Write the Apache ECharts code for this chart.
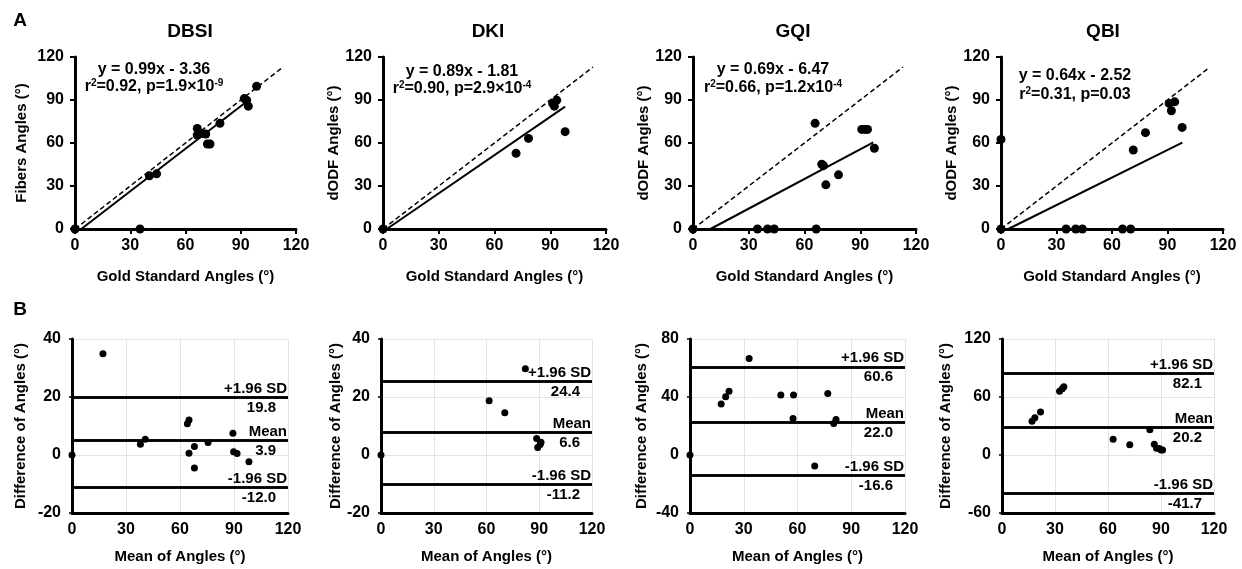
<!DOCTYPE html>
<html>
<head>
<meta charset="utf-8">
<script src="https://cdn.jsdelivr.net/npm/echarts@6.0.0/dist/echarts.min.js"></script>
<style>
html, body { margin: 0; padding: 0; background: #fff; }
#chart { width: 1242px; height: 569px; }
</style>
</head>
<body>
<div id="chart"></div>
<script>
var chart = echarts.init(document.getElementById('chart'));

// methods & axis names
var methods = ['DBSI', 'DKI', 'GQI', 'QBI'];
var topYNames = ['Fibers Angles (°)', 'dODF Angles (°)', 'dODF Angles (°)', 'dODF Angles (°)'];

// A: gold standard angle vs measured angle
var goldDBSI = [0, 35.3, 40.4, 44.3, 66.4, 66.4, 68.8, 71.0, 71.9, 73.3, 78.7, 91.9, 93.2, 94.1, 98.6];
var measDBSI = [0, 0, 37.1, 38.5, 70.2, 65.6, 66.7, 66.3, 59.3, 59.3, 73.7, 91.0, 89.9, 85.7, 99.6];
var goldDKI = [0, 71.6, 78.3, 91.3, 92.2, 93.5, 98.0];
var measDKI = [0, 52.8, 63.2, 87.6, 85.7, 89.9, 67.9];
var goldGQI = [0, 34.7, 40.1, 43.7, 66.3, 65.7, 69.3, 70.2, 71.5, 78.3, 90.8, 92.6, 93.9, 97.6];
var measGQI = [0, 0, 0, 0, 0, 73.7, 45.2, 44.2, 30.8, 37.8, 69.5, 69.5, 69.5, 56.3];
var goldQBI = [0, 0, 35.2, 40.4, 44.0, 65.7, 70.1, 71.5, 78.1, 90.9, 92.1, 93.9, 97.9];
var measQBI = [0, 62.5, 0, 0, 0, 0, 0, 55.1, 67.2, 87.6, 82.5, 88.7, 70.9];

// regression fits as printed
var slopes = [0.99, 0.89, 0.69, 0.64];
var intercepts = [-3.36, -1.81, -6.47, -2.52];
var fitEndX = [94, 98, 97, 98];
var identityEnd = [113, 113, 113, 112];
var eqText = ['y = 0.99x - 3.36', 'y = 0.89x - 1.81', 'y = 0.69x - 6.47', 'y = 0.64x - 2.52'];
var r2Text = ['0.92', '0.90', '0.66', '0.31'];
var pText = ['1.9×10', '2.9×10', '1.2x10', '0.03'];
var pExp = ['-9', '-4', '-4', ''];

// B: Bland-Altman mean vs difference
var meanDBSI = [0, 17.2, 38.0, 40.7, 64.1, 65.0, 65.0, 68.0, 68.0, 75.6, 89.4, 89.8, 91.7, 98.3];
var diffDBSI = [0, 34.9, 3.7, 5.4, 10.8, 12.1, 0.6, 2.9, -4.5, 4.3, 7.5, 1.1, 0.5, -2.3];
var meanDKI = [0, 82.1, 61.5, 70.4, 88.5, 91.0, 89.1, 90.5];
var diffDKI = [0, 29.7, 18.7, 14.6, 5.7, 4.4, 2.6, 3.6];
var meanGQI = [0, 17.4, 19.9, 21.8, 33.0, 50.7, 57.8, 57.5, 76.9, 80.2, 81.5, 69.6];
var diffGQI = [0, 35.1, 40.1, 44.0, 66.5, 41.3, 41.3, 25.2, 42.4, 21.8, 24.5, -7.6];
var meanQBI = [17.0, 18.6, 21.8, 32.6, 34.1, 35.0, 62.9, 72.3, 83.7, 86.2, 87.5, 89.0, 90.0, 90.9];
var diffQBI = [34.8, 38.6, 44.5, 65.9, 68.6, 70.7, 16.2, 10.7, 26.2, 11.0, 6.9, 6.6, 5.2, 5.2];

var upperLimit = [19.8, 25.3, 60.8, 84.8];
var meanLimit = [5.1, 7.7, 22.7, 28.3];
var lowerLimit = [-11.2, -10.0, -14.0, -40.0];
var upperText = ['19.8', '24.4', '60.6', '82.1'];
var meanText = ['3.9', '6.6', '22.0', '20.2'];
var lowerText = ['-12.0', '-11.2', '-16.6', '-41.7'];

var bYMin = [-20, -20, -40, -60];
var bYMax = [40, 40, 80, 120];
var bYStep = [20, 20, 40, 60];

var topGold = [goldDBSI, goldDKI, goldGQI, goldQBI];
var topMeas = [measDBSI, measDKI, measGQI, measQBI];
var botMean = [meanDBSI, meanDKI, meanGQI, meanQBI];
var botDiff = [diffDBSI, diffDKI, diffGQI, diffQBI];

var FONT = '"Liberation Sans", Arial, sans-serif';
var topLeft = [75, 383, 693, 1001], topWidth = [221, 223, 223, 222];
var botLeft = [72, 381, 690, 1002], botWidth = [216, 211, 215, 212];
var topNameGap = [46, 39, 39, 39], botNameGap = [44, 37, 41, 49];
var titleX = [190, 488, 793, 1103];
var eqX = [154, 462, 773, 1075], eqY = [70, 72, 70, 76], eq2Y = [87, 89, 88, 95];

function zip(a, b) {
	var r = [];
	for (var i = 0; i < a.length; i++) r.push([a[i], b[i]]);
	return r;
}

var grids = [], xAxes = [], yAxes = [], series = [], graphics = [];
var bold = { color: '#000', fontWeight: 'bold', fontFamily: FONT };

function nameLbl(txt) {
	return Object.assign({ show: true, position: 'insideEndTop', formatter: txt, fontSize: 15, distance: 1 }, bold);
}
function valLbl(txt) {
	return Object.assign({ show: true, position: 'insideEndBottom', formatter: txt, fontSize: 15, distance: 3, padding: [0, 9, 0, 0] }, bold);
}

for (var i = 0; i < 4; i++) {
	// ---- top row (A) : index i
	grids[i] = { left: topLeft[i], top: 57, width: topWidth[i], height: 172 };
	xAxes[i] = {
		gridIndex: i, type: 'value', min: 0, max: 120, interval: 30,
		name: 'Gold Standard Angles (°)', nameLocation: 'middle', nameGap: 40,
		nameTextStyle: Object.assign({ fontSize: 15 }, bold),
		axisLine: { onZero: false, lineStyle: { color: '#000', width: 3 } },
		axisTick: { show: true, length: 5, lineStyle: { color: '#000', width: 2 } },
		axisLabel: Object.assign({ fontSize: 16, margin: 9 }, bold),
		splitLine: { show: false }
	};
	yAxes[i] = {
		gridIndex: i, type: 'value', min: 0, max: 120, interval: 30,
		name: topYNames[i], nameLocation: 'middle', nameGap: topNameGap[i],
		nameTextStyle: Object.assign({ fontSize: 15 }, bold),
		axisLine: { show: true, onZero: false, lineStyle: { color: '#000', width: 3 } },
		axisTick: { show: true, length: 5, lineStyle: { color: '#000', width: 2 } },
		axisLabel: Object.assign({ fontSize: 16, margin: 11 }, bold),
		splitLine: { show: false }
	};
	var x0 = -intercepts[i] / slopes[i];
	series.push({
		type: 'line', xAxisIndex: i, yAxisIndex: i, symbol: 'none', silent: true,
		data: [[0, 0], [identityEnd[i], identityEnd[i]]],
		lineStyle: { color: '#000', width: 1.5, type: [5, 3] }, z: 2
	});
	series.push({
		type: 'line', xAxisIndex: i, yAxisIndex: i, symbol: 'none', silent: true,
		data: [[x0, 0], [fitEndX[i], slopes[i] * fitEndX[i] + intercepts[i]]],
		lineStyle: { color: '#000', width: 2 }, z: 2
	});
	series.push({
		type: 'scatter', xAxisIndex: i, yAxisIndex: i, symbolSize: 9,
		itemStyle: { color: '#000', opacity: 1 }, data: zip(topGold[i], topMeas[i]), z: 3
	});

	// ---- bottom row (B) : index i + 4
	var b = i + 4;
	grids[b] = { left: botLeft[i], top: 339, width: botWidth[i], height: 174 };
	xAxes[b] = {
		gridIndex: b, type: 'value', min: 0, max: 120, interval: 30,
		name: 'Mean of Angles (°)', nameLocation: 'middle', nameGap: 36,
		nameTextStyle: Object.assign({ fontSize: 15 }, bold),
		axisLine: { onZero: false, lineStyle: { color: '#000', width: 3 } },
		axisTick: { show: false },
		axisLabel: Object.assign({ fontSize: 16, margin: 9 }, bold),
		splitLine: { show: true, lineStyle: { color: '#e3e3e3', width: 1 } }
	};
	yAxes[b] = {
		gridIndex: b, type: 'value', min: bYMin[i], max: bYMax[i], interval: bYStep[i],
		name: 'Difference of Angles (°)', nameLocation: 'middle', nameGap: botNameGap[i],
		nameTextStyle: Object.assign({ fontSize: 15 }, bold),
		axisLine: { show: true, onZero: false, lineStyle: { color: '#000', width: 3 } },
		axisTick: { show: true, length: 3, lineStyle: { color: '#000', width: 1.5 } },
		axisLabel: Object.assign({ fontSize: 16, margin: 11 }, bold),
		splitLine: { show: true, lineStyle: { color: '#e3e3e3', width: 1 } }
	};
	series.push({
		type: 'scatter', xAxisIndex: b, yAxisIndex: b, symbolSize: 7,
		itemStyle: { color: '#000', opacity: 1 }, data: zip(botMean[i], botDiff[i]), z: 3,
		markLine: {
			silent: true, symbol: 'none', animation: false,
			lineStyle: { color: '#000', width: 2.5, type: 'solid', opacity: 1 },
			data: [
				{ yAxis: upperLimit[i], label: nameLbl('+1.96 SD') },
				{ yAxis: upperLimit[i], label: valLbl(upperText[i]) },
				{ yAxis: meanLimit[i], label: nameLbl('Mean') },
				{ yAxis: meanLimit[i], label: valLbl(meanText[i]) },
				{ yAxis: lowerLimit[i], label: nameLbl('-1.96 SD') },
				{ yAxis: lowerLimit[i], label: valLbl(lowerText[i]) }
			]
		}
	});

	// ---- texts
	graphics.push({
		type: 'text', x: titleX[i], y: 32,
		style: { text: methods[i], fill: '#000', font: 'bold 19px ' + FONT, align: 'center', verticalAlign: 'middle' }
	});
	graphics.push({
		type: 'text', x: eqX[i], y: eqY[i],
		style: { text: eqText[i], fill: '#000', font: 'bold 16px ' + FONT, align: 'center', verticalAlign: 'middle' }
	});
	var line2 = '{t|r}{s|2}{t|=' + r2Text[i] + ', p=' + pText[i] + '}' + (pExp[i] ? '{s|' + pExp[i] + '}' : '');
	graphics.push({
		type: 'text', x: eqX[i], y: eq2Y[i],
		style: {
			text: line2, align: 'center', verticalAlign: 'middle',
			rich: {
				t: { fill: '#000', font: 'bold 16px ' + FONT, lineHeight: 18 },
				s: { fill: '#000', font: 'bold 10px ' + FONT, verticalAlign: 'top', lineHeight: 18 }
			}
		}
	});
}

graphics.push({ type: 'text', x: 20, y: 21, style: { text: 'A', fill: '#000', font: 'bold 19px ' + FONT, align: 'center', verticalAlign: 'middle' } });
graphics.push({ type: 'text', x: 20, y: 310, style: { text: 'B', fill: '#000', font: 'bold 19px ' + FONT, align: 'center', verticalAlign: 'middle' } });

var option = {
	backgroundColor: '#fff',
	animation: false,
	grid: grids,
	xAxis: xAxes,
	yAxis: yAxes,
	series: series,
	graphic: graphics
};
chart.setOption(option);
window.onresize = chart.resize;
</script>
</body>
</html>
